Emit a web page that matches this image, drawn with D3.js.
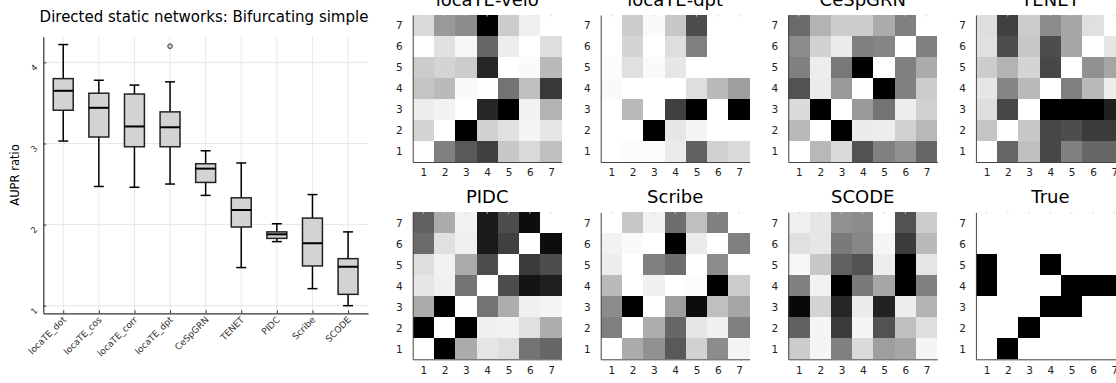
<!DOCTYPE html>
<html>
<head>
<meta charset="utf-8">
<script src="https://cdn.jsdelivr.net/npm/d3@7"></script>
<style>
  body { margin: 0; background: #fff; }
  text { font-family: "DejaVu Sans", sans-serif; }
</style>
</head>
<body>
<div id="cntr"></div>
<script>
const width = 1116;
const height = 383;

// box plot data (AUPR ratio)
const methods = ["locaTE_dot", "locaTE_cos", "locaTE_corr", "locaTE_dpt", "CeSpGRN", "TENET", "PIDC", "Scribe", "SCODE"];
const whiskerLow  = [3.03, 2.47, 2.46, 2.50, 2.36, 1.47, 1.79, 1.21, 1.00];
const q1          = [3.41, 3.08, 2.96, 2.96, 2.52, 1.97, 1.83, 1.49, 1.14];
const medians     = [3.65, 3.44, 3.21, 3.20, 2.69, 2.18, 1.88, 1.77, 1.48];
const q3          = [3.80, 3.62, 3.61, 3.39, 2.75, 2.33, 1.91, 2.08, 1.58];
const whiskerHigh = [4.22, 3.78, 3.72, 3.76, 2.91, 2.76, 2.01, 2.37, 1.91];
const outliers = [{ method: "locaTE_dpt", value: 4.20 }];
const yTicks = [1, 2, 3, 4];

// heatmaps: rows listed from gene 7 (top) down to gene 1, columns gene 1..7
const geneTicks = [1, 2, 3, 4, 5, 6, 7];
const panelTitles = ["locaTE-velo", "locaTE-dpt", "CeSpGRN", "TENET", "PIDC", "Scribe", "SCODE", "True"];

const locaTEVelo = [
  [0.15, 0.40, 0.45, 1.00, 0.20, 0.06, 0.00],
  [0.00, 0.12, 0.03, 0.60, 0.07, 0.00, 0.13],
  [0.20, 0.17, 0.20, 0.85, 0.00, 0.02, 0.27],
  [0.23, 0.27, 0.02, 0.00, 0.55, 0.25, 0.78],
  [0.07, 0.05, 0.00, 0.85, 1.00, 0.05, 0.30],
  [0.17, 0.00, 1.00, 0.18, 0.12, 0.04, 0.10],
  [0.00, 0.50, 0.65, 0.75, 0.22, 0.15, 0.25]
];
const locaTEDpt = [
  [0.00, 0.20, 0.02, 0.22, 0.70, 0.00, 0.00],
  [0.00, 0.17, 0.00, 0.13, 0.50, 0.00, 0.00],
  [0.01, 0.12, 0.02, 0.10, 0.00, 0.00, 0.00],
  [0.02, 0.00, 0.00, 0.00, 0.13, 0.27, 0.38],
  [0.00, 0.27, 0.00, 0.75, 1.00, 0.00, 1.00],
  [0.00, 0.00, 1.00, 0.10, 0.04, 0.00, 0.00],
  [0.00, 0.01, 0.01, 0.08, 0.62, 0.18, 0.15]
];
const ceSpGRN = [
  [0.58, 0.30, 0.20, 0.20, 0.33, 0.50, 0.00],
  [0.45, 0.18, 0.08, 0.50, 0.48, 0.00, 0.50],
  [0.50, 0.07, 0.53, 1.00, 0.00, 0.50, 0.33],
  [0.68, 0.08, 0.40, 0.00, 1.00, 0.50, 0.20],
  [0.14, 1.00, 0.00, 0.40, 0.55, 0.07, 0.18],
  [0.27, 0.00, 1.00, 0.08, 0.07, 0.18, 0.28],
  [0.00, 0.28, 0.15, 0.68, 0.50, 0.43, 0.60]
];
const tenet = [
  [0.13, 0.75, 0.20, 0.45, 0.35, 0.12, 0.00],
  [0.12, 0.70, 0.22, 0.70, 0.35, 0.00, 0.10],
  [0.20, 0.30, 0.17, 0.72, 0.00, 0.43, 0.35],
  [0.10, 0.48, 0.27, 0.00, 0.50, 0.27, 0.07],
  [0.13, 0.72, 0.00, 1.00, 1.00, 1.00, 0.88],
  [0.23, 0.00, 0.22, 0.72, 0.70, 0.77, 0.77],
  [0.00, 0.60, 0.25, 0.72, 0.50, 0.60, 0.60]
];
const pidc = [
  [0.62, 0.33, 0.05, 0.90, 0.70, 0.95, 0.00],
  [0.58, 0.12, 0.06, 0.90, 0.75, 0.00, 0.95],
  [0.13, 0.05, 0.33, 0.70, 0.00, 0.77, 0.70],
  [0.10, 0.06, 0.55, 0.00, 0.70, 0.92, 0.88],
  [0.33, 1.00, 0.00, 0.55, 0.32, 0.06, 0.04],
  [1.00, 0.00, 1.00, 0.06, 0.05, 0.12, 0.32],
  [0.00, 1.00, 0.33, 0.10, 0.13, 0.55, 0.60]
];
const scribe = [
  [0.00, 0.22, 0.05, 0.57, 0.25, 0.50, 0.00],
  [0.05, 0.02, 0.00, 1.00, 0.08, 0.00, 0.50],
  [0.07, 0.00, 0.50, 0.57, 0.00, 0.45, 0.00],
  [0.27, 0.00, 0.06, 0.00, 0.01, 1.00, 0.20],
  [0.45, 1.00, 0.00, 0.38, 0.95, 0.25, 0.35],
  [0.50, 0.00, 0.32, 0.60, 0.10, 0.06, 0.50],
  [0.00, 0.33, 0.43, 0.65, 0.18, 0.45, 0.04]
];
const scode = [
  [0.06, 0.10, 0.43, 0.45, 0.00, 0.68, 0.20],
  [0.12, 0.10, 0.52, 0.47, 0.04, 0.77, 0.27],
  [0.03, 0.22, 0.62, 0.68, 0.07, 1.00, 0.10],
  [0.50, 0.05, 1.00, 0.52, 0.35, 1.00, 0.50],
  [0.97, 0.17, 0.85, 0.08, 0.87, 0.07, 0.30],
  [0.62, 0.04, 0.77, 0.04, 0.68, 0.25, 0.13],
  [0.20, 0.04, 0.50, 0.15, 0.38, 0.35, 0.04]
];
const trueNet = [
  [0, 0, 0, 0, 0, 0, 0],
  [0, 0, 0, 0, 0, 0, 0],
  [1, 0, 0, 1, 0, 0, 0],
  [1, 0, 0, 0, 1, 1, 1],
  [0, 0, 0, 1, 1, 0, 0],
  [0, 0, 1, 0, 0, 0, 0],
  [0, 1, 0, 0, 0, 0, 0]
];
const matrices = [locaTEVelo, locaTEDpt, ceSpGRN, tenet, pidc, scribe, scode, trueNet];

const svg = d3.select("#cntr")
    .append("svg")
    .attr("width", width)
    .attr("height", height);

const axisColor = "#333";
const gridColor = "#e8e8e8";
const intFormat = d3.format("d");

// ---------- box plot ----------
const bp = { left: 43.3, right: 368, top: 36.7, bottom: 313.3 };

const x = d3.scaleLinear().domain([0.44, 9.56]).range([bp.left, bp.right]);
const y = d3.scaleLinear().domain([0.906, 4.317]).range([bp.bottom, bp.top]);

const boxG = svg.append("g");

// grid
boxG.selectAll(".vgrid")
    .data(methods)
    .join("line")
        .attr("x1", (d, i) => x(i + 1)).attr("x2", (d, i) => x(i + 1))
        .attr("y1", bp.top).attr("y2", bp.bottom)
        .style("stroke", gridColor);
boxG.selectAll(".hgrid")
    .data(yTicks)
    .join("line")
        .attr("x1", bp.left).attr("x2", bp.right)
        .attr("y1", d => y(d)).attr("y2", d => y(d))
        .style("stroke", gridColor);

// axes
const yAxis = boxG.append("g")
    .attr("transform", `translate(${bp.left},0)`)
    .call(d3.axisLeft(y).tickValues(yTicks).tickFormat(intFormat).tickSize(-3).tickSizeOuter(0).tickPadding(7));
yAxis.select(".domain").style("stroke", axisColor).style("stroke-width", 1.2);
yAxis.selectAll(".tick line").style("stroke", axisColor);
yAxis.selectAll(".tick text")
    .style("font-size", "8.5px")
    .style("fill", axisColor)
    .attr("text-anchor", "middle")
    .attr("dy", "0.32em")
    .attr("transform", "translate(-4,0) rotate(-45)");

const xAxis = boxG.append("g")
    .attr("transform", `translate(0,${bp.bottom})`)
    .call(d3.axisBottom(x).tickValues(d3.range(1, methods.length + 1))
        .tickFormat(d => methods[d - 1]).tickSize(-3).tickSizeOuter(0));
xAxis.select(".domain").style("stroke", axisColor).style("stroke-width", 1.2);
xAxis.selectAll(".tick line").style("stroke", axisColor);
xAxis.selectAll(".tick text")
    .style("font-size", "9px")
    .style("fill", axisColor)
    .attr("text-anchor", "end")
    .attr("dy", null)
    .attr("y", 0)
    .attr("transform", "translate(3,7) rotate(-45)");

// boxes
const boxW = x(0.28) - x(0);
const capW = x(0.14) - x(0);
const boxes = boxG.selectAll(".box")
    .data(methods)
    .join("g")
        .attr("transform", (d, i) => `translate(${x(i + 1)},0)`);

boxes.append("line")
    .attr("y1", (d, i) => y(whiskerHigh[i])).attr("y2", (d, i) => y(q3[i]))
    .style("stroke", "#000").style("stroke-width", 1.5);
boxes.append("line")
    .attr("y1", (d, i) => y(whiskerLow[i])).attr("y2", (d, i) => y(q1[i]))
    .style("stroke", "#000").style("stroke-width", 1.5);
boxes.append("line")
    .attr("x1", -capW).attr("x2", capW)
    .attr("y1", (d, i) => y(whiskerHigh[i])).attr("y2", (d, i) => y(whiskerHigh[i]))
    .style("stroke", "#000").style("stroke-width", 1.5);
boxes.append("line")
    .attr("x1", -capW).attr("x2", capW)
    .attr("y1", (d, i) => y(whiskerLow[i])).attr("y2", (d, i) => y(whiskerLow[i]))
    .style("stroke", "#000").style("stroke-width", 1.5);
boxes.append("rect")
    .attr("x", -boxW).attr("width", 2 * boxW)
    .attr("y", (d, i) => y(q3[i]))
    .attr("height", (d, i) => y(q1[i]) - y(q3[i]))
    .style("fill", "#d3d3d3")
    .style("stroke", "#222").style("stroke-width", 1.5);
boxes.append("line")
    .attr("x1", -boxW).attr("x2", boxW)
    .attr("y1", (d, i) => y(medians[i])).attr("y2", (d, i) => y(medians[i]))
    .style("stroke", "#000").style("stroke-width", 2);

boxG.selectAll(".outlier")
    .data(outliers)
    .join("circle")
        .attr("cx", d => x(methods.indexOf(d.method) + 1))
        .attr("cy", d => y(d.value))
        .attr("r", 2.3)
        .style("fill", "#d3d3d3")
        .style("stroke", "#333");

boxG.append("text")
    .attr("x", 204).attr("y", 22)
    .style("font-size", "15px")
    .style("text-anchor", "middle")
    .text("Directed static networks: Bifurcating simple");

boxG.append("text")
    .attr("transform", `translate(19,${(bp.top + bp.bottom) / 2}) rotate(-90)`)
    .style("font-size", "11.5px")
    .style("text-anchor", "middle")
    .text("AUPR ratio");

// ---------- heatmaps ----------
const panelLefts = [412.7, 600.7, 788.3, 975.9];
const panelTops = [15, 212.3];
const hmW = 149, hmH = 147;
const grey = d3.scaleLinear().domain([0, 1]).range(["#ffffff", "#000000"]);

matrices.forEach((mat, k) => {
    const left = panelLefts[k % 4];
    const top = panelTops[Math.floor(k / 4)];
    const hx = d3.scaleLinear().domain([0.5, 7.5]).range([left, left + hmW]);
    const hy = d3.scaleLinear().domain([0.5, 7.5]).range([top + hmH, top]);
    const g = svg.append("g");

    const cells = mat.flatMap((row, r) => row.map((v, c) => ({ gx: c + 1, gy: 7 - r, v })));
    g.selectAll("rect")
        .data(cells)
        .join("rect")
            .attr("x", d => hx(d.gx - 0.5))
            .attr("y", d => hy(d.gy + 0.5))
            .attr("width", hx(1.5) - hx(0.5))
            .attr("height", hy(0.5) - hy(1.5))
            .attr("shape-rendering", "crispEdges")
            .style("fill", d => grey(d.v));

    // faint grid marks peeking at the top edge
    g.selectAll(".gm")
        .data(geneTicks)
        .join("line")
            .attr("x1", d => hx(d)).attr("x2", d => hx(d))
            .attr("y1", top).attr("y2", top + 1.5)
            .style("stroke", "#ccc");

    const ax = g.append("g")
        .attr("transform", `translate(0,${top + hmH})`)
        .call(d3.axisBottom(hx).tickValues(geneTicks).tickFormat(intFormat).tickSize(0).tickPadding(7).tickSizeOuter(0));
    const ay = g.append("g")
        .attr("transform", `translate(${left},0)`)
        .call(d3.axisLeft(hy).tickValues(geneTicks).tickFormat(intFormat).tickSize(0).tickPadding(10).tickSizeOuter(0));
    [ax, ay].forEach(a => {
        a.select(".domain").style("stroke", "#444").style("stroke-width", 1);
        a.selectAll(".tick text").style("font-size", "10.5px").style("fill", "#222");
    });

    g.append("text")
        .attr("x", left + hmW / 2)
        .attr("y", top - 9)
        .style("font-size", "18px")
        .style("text-anchor", "middle")
        .text(panelTitles[k]);
});
</script>
</body>
</html>
